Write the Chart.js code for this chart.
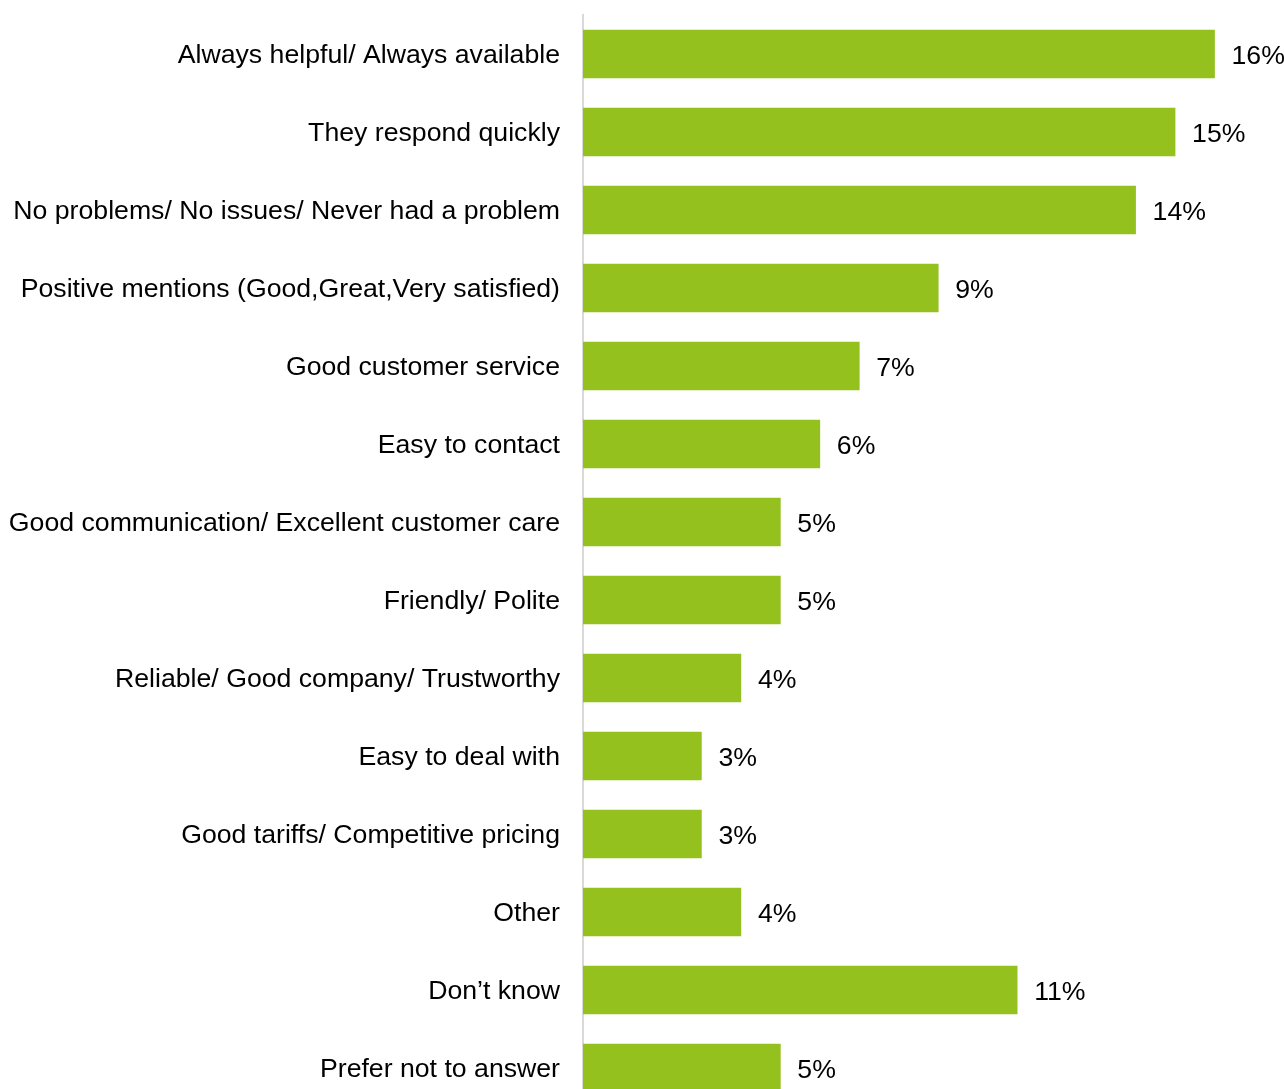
<!DOCTYPE html>
<html>
<head>
<meta charset="utf-8">
<script src="https://cdn.jsdelivr.net/npm/chart.js@4/dist/chart.umd.min.js"></script>
<style>
  html, body { margin: 0; padding: 0; background: #ffffff; overflow: hidden; }
  #wrap { position: relative; width: 1284px; height: 1107px; }
</style>
</head>
<body>
<div id="wrap"><canvas id="chart"></canvas></div>
<script>
const categories = [
  "Always helpful/ Always available",
  "They respond quickly",
  "No problems/ No issues/ Never had a problem",
  "Positive mentions (Good,Great,Very satisfied)",
  "Good customer service",
  "Easy to contact",
  "Good communication/ Excellent customer care",
  "Friendly/ Polite",
  "Reliable/ Good company/ Trustworthy",
  "Easy to deal with",
  "Good tariffs/ Competitive pricing",
  "Other",
  "Don\u2019t know",
  "Prefer not to answer"
];
const shares = [16, 15, 14, 9, 7, 6, 5, 5, 4, 3, 3, 4, 11, 5];
const valueLabels = ["16%", "15%", "14%", "9%", "7%", "6%", "5%", "5%", "4%", "3%", "3%", "4%", "11%", "5%"];

const FONT = "'Liberation Sans', Arial, sans-serif";
const FONT_SIZE = 26.67;

// Writes the percentage just past the end of each bar
const barValueLabels = {
  id: 'barValueLabels',
  afterDatasetsDraw(chart) {
    const ctx = chart.ctx;
    const meta = chart.getDatasetMeta(0);
    ctx.save();
    ctx.font = FONT_SIZE + 'px ' + FONT;
    ctx.fillStyle = '#000000';
    ctx.textAlign = 'left';
    ctx.textBaseline = 'middle';
    meta.data.forEach((bar, i) => {
      ctx.fillText(valueLabels[i], bar.x + 17, bar.y + 3);
    });
    ctx.restore();
  }
};

new Chart(document.getElementById('chart'), {
  type: 'bar',
  data: {
    labels: categories,
    datasets: [{
      data: shares,
      backgroundColor: '#95c11f',
      borderWidth: 0,
      barThickness: 48
    }]
  },
  options: {
    indexAxis: 'y',
    responsive: true,
    maintainAspectRatio: false,
    animation: false,
    layout: { padding: { top: 15, right: 30, bottom: 0, left: 0 } },
    plugins: {
      legend: { display: false },
      tooltip: { enabled: false }
    },
    scales: {
      x: {
        display: false,
        min: 0,
        max: 17
      },
      y: {
        afterFit(scale) {
          scale.width = 583;
          scale.paddingTop = 0;
          scale.paddingBottom = 0;
        },
        grid: { display: false, drawTicks: false },
        border: { display: true, color: '#d9d9d9', width: 2 },
        ticks: {
          color: '#000000',
          padding: 23,
          labelOffset: 2,
          font: { family: FONT, size: FONT_SIZE }
        }
      }
    }
  },
  plugins: [barValueLabels]
});
</script>
</body>
</html>
